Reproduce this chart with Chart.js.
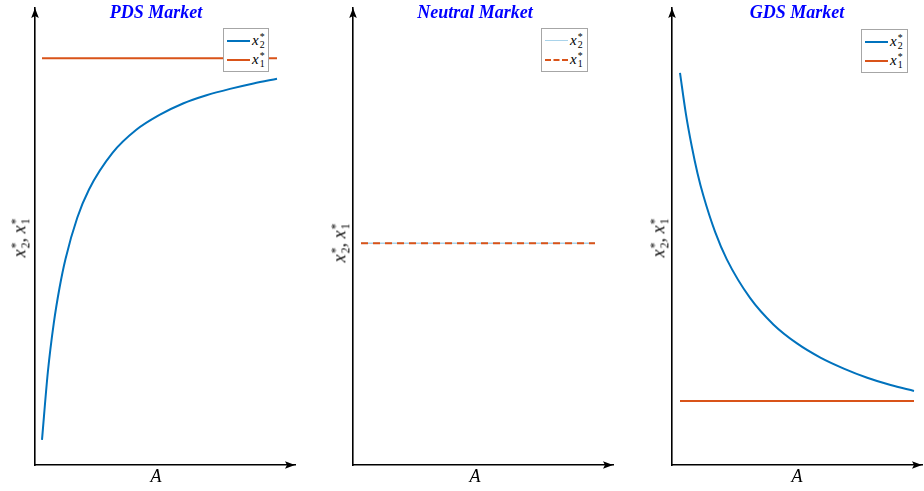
<!DOCTYPE html>
<html>
<head>
<meta charset="utf-8">
<script src="https://cdn.jsdelivr.net/npm/chart.js@4.4.1/dist/chart.umd.min.js"></script>
<style>
  html,body{margin:0;padding:0;background:#fff;}
  #wrap{position:relative;width:924px;height:491px;overflow:hidden;background:#fff;}
  canvas{position:absolute;left:0;top:0;}
  .title{position:absolute;top:2px;font-family:"Liberation Serif",serif;font-weight:bold;font-style:italic;font-size:18px;color:#0000ff;transform:translateX(-50%);white-space:nowrap;}
  .xl{position:absolute;top:466px;font-family:"Liberation Serif",serif;font-style:italic;font-size:18px;color:#000;transform:translateX(-50%);}
  .yl{position:absolute;font-family:"Liberation Serif",serif;font-style:italic;font-size:18px;color:#000;transform:translate(-50%,-50%) rotate(-90deg);white-space:nowrap;}
  .ss{display:inline-block;vertical-align:-0.35em;line-height:0.85;font-size:0.66em;font-style:normal;margin-left:1px;text-align:left;}
  .ss span{display:block;}
  .leg{position:absolute;background:#fff;border:1px solid #a6a6a6;font-family:"Liberation Serif",serif;font-style:italic;font-size:15px;box-sizing:border-box;padding:2px 2px 0 3px;}
  .row{display:flex;align-items:center;height:19px;}
  .samp{width:23px;height:0;margin-right:2px;}
</style>
</head>
<body>
<div id="wrap">
  <canvas id="c1" width="924" height="491"></canvas>
  <canvas id="c2" width="924" height="491"></canvas>
  <canvas id="c3" width="924" height="491"></canvas>
</div>
<script>
// ---- data (A normalised to 0..1, x* normalised to 0..1) ----
const A = [0, 0.025, 0.05, 0.075, 0.1, 0.15, 0.2, 0.3, 0.4, 0.5, 0.6, 0.7, 0.8, 0.9, 1.0];
const titles = ["PDS Market", "Neutral Market", "GDS Market"];
const seriesNames = ["x2", "x1"];
const pdsX2 = [0.055, 0.204, 0.310, 0.389, 0.451, 0.541, 0.603, 0.683, 0.733, 0.766, 0.791, 0.809, 0.823, 0.835, 0.845];
const pdsX1 = [0.890, 0.890, 0.890, 0.890, 0.890, 0.890, 0.890, 0.890, 0.890, 0.890, 0.890, 0.890, 0.890, 0.890, 0.890];
const neutralX2 = [0.485, 0.485, 0.485, 0.485, 0.485, 0.485, 0.485, 0.485, 0.485, 0.485, 0.485, 0.485, 0.485, 0.485, 0.485];
const neutralX1 = [0.485, 0.485, 0.485, 0.485, 0.485, 0.485, 0.485, 0.485, 0.485, 0.485, 0.485, 0.485, 0.485, 0.485, 0.485];
const gdsX2 = [0.858, 0.769, 0.698, 0.638, 0.589, 0.510, 0.450, 0.365, 0.307, 0.266, 0.235, 0.211, 0.191, 0.175, 0.162];
const gdsX1 = [0.140, 0.140, 0.140, 0.140, 0.140, 0.140, 0.140, 0.140, 0.140, 0.140, 0.140, 0.140, 0.140, 0.140, 0.140];

const BLUE = "#0072BD", ORANGE = "#D95319", LIGHTBLUE = "#A9D3EA";

const arrowPlugin = {
  id: "arrows",
  afterDraw(chart) {
    const {ctx, chartArea: a} = chart;
    ctx.save();
    ctx.fillStyle = "#000";
    ctx.beginPath();
    ctx.moveTo(a.left, a.top);
    ctx.lineTo(a.left - 3.8, a.top + 10);
    ctx.lineTo(a.left, a.top + 8);
    ctx.lineTo(a.left + 3.8, a.top + 10);
    ctx.closePath();
    ctx.fill();
    ctx.beginPath();
    ctx.moveTo(a.right, a.bottom);
    ctx.lineTo(a.right - 10, a.bottom - 3.8);
    ctx.lineTo(a.right - 8, a.bottom);
    ctx.lineTo(a.right - 10, a.bottom + 3.8);
    ctx.closePath();
    ctx.fill();
    ctx.restore();
  }
};

function pts(ys) { return A.map((a, i) => ({x: a, y: ys[i]})); }

function makeChart(id, pad, xmin, xmax, datasets) {
  return new Chart(document.getElementById(id), {
    type: "line",
    data: {datasets},
    options: {
      responsive: false,
      animation: false,
      devicePixelRatio: 1,
      layout: {padding: pad},
      plugins: {legend: {display: false}, tooltip: {enabled: false}, title: {display: false}},
      elements: {point: {radius: 0}},
      scales: {
        x: {type: "linear", min: xmin, max: xmax,
            grid: {display: false, drawTicks: false}, ticks: {display: false},
            border: {display: true, color: "#000", width: 1.6},
            afterFit(s) { s.height = 0; }},
        y: {type: "linear", min: 0, max: 1,
            grid: {display: false, drawTicks: false}, ticks: {display: false},
            border: {display: true, color: "#000", width: 1.6},
            afterFit(s) { s.width = 0; }}
      }
    },
    plugins: [arrowPlugin]
  });
}

makeChart("c1", {left: 35, right: 629, top: 8, bottom: 26}, -0.0298, 1.0766, [
  {label: seriesNames[0], data: pts(pdsX2), borderColor: BLUE, borderWidth: 2, cubicInterpolationMode: "monotone", fill: false},
  {label: seriesNames[1], data: pts(pdsX1), borderColor: ORANGE, borderWidth: 2, fill: false}
]);
makeChart("c2", {left: 353, right: 311, top: 8, bottom: 26}, -0.0342, 1.0769, [
  {label: seriesNames[0], data: pts(neutralX2), borderColor: LIGHTBLUE, borderWidth: 1.5, fill: false, order: 2},
  {label: seriesNames[1], data: pts(neutralX1), borderColor: ORANGE, borderWidth: 2, borderDash: [7, 5], fill: false, order: 1}
]);
makeChart("c3", {left: 672, right: 2, top: 8, bottom: 26}, -0.0342, 1.0342, [
  {label: seriesNames[0], data: pts(gdsX2), borderColor: BLUE, borderWidth: 2, cubicInterpolationMode: "monotone", fill: false},
  {label: seriesNames[1], data: pts(gdsX1), borderColor: ORANGE, borderWidth: 2, fill: false}
]);

// ---- text overlays ----
const wrap = document.getElementById("wrap");
function math(base, sub) {
  return base + '<span class="ss"><span>*</span><span>' + sub + '</span></span>';
}
const panels = [
  {tx: 156, yl: {x: 20, y: 238}, leg: {x: 223, y: 28, w: 46, h: 44},
   legItems: [{c: BLUE, w: 2, dash: false}, {c: ORANGE, w: 2, dash: false}]},
  {tx: 475, yl: {x: 340, y: 243}, leg: {x: 541, y: 28, w: 47, h: 44},
   legItems: [{c: LIGHTBLUE, w: 1, dash: false}, {c: ORANGE, w: 2, dash: true}]},
  {tx: 797, yl: {x: 659, y: 238}, leg: {x: 861, y: 29, w: 47, h: 44},
   legItems: [{c: BLUE, w: 2, dash: false}, {c: ORANGE, w: 2, dash: false}]}
];
panels.forEach((p, i) => {
  const t = document.createElement("div");
  t.className = "title"; t.style.left = p.tx + "px"; t.textContent = titles[i];
  wrap.appendChild(t);
  const xl = document.createElement("div");
  xl.className = "xl"; xl.style.left = p.tx + "px"; xl.textContent = "A";
  wrap.appendChild(xl);
  const yl = document.createElement("div");
  yl.className = "yl"; yl.style.left = p.yl.x + "px"; yl.style.top = p.yl.y + "px";
  yl.innerHTML = math("x", "2") + ", " + math("x", "1");
  wrap.appendChild(yl);
  const lg = document.createElement("div");
  lg.className = "leg";
  lg.style.left = p.leg.x + "px"; lg.style.top = p.leg.y + "px";
  lg.style.width = p.leg.w + "px"; lg.style.height = p.leg.h + "px";
  seriesNames.forEach((n, k) => {
    const it = p.legItems[k];
    const r = document.createElement("div"); r.className = "row";
    const s = document.createElement("span"); s.className = "samp";
    s.style.borderTop = it.w + "px " + (it.dash ? "dashed " : "solid ") + it.c;
    r.appendChild(s);
    const m = document.createElement("span");
    m.innerHTML = math(n[0], n[1]);
    r.appendChild(m);
    lg.appendChild(r);
  });
  wrap.appendChild(lg);
});
</script>
</body>
</html>
